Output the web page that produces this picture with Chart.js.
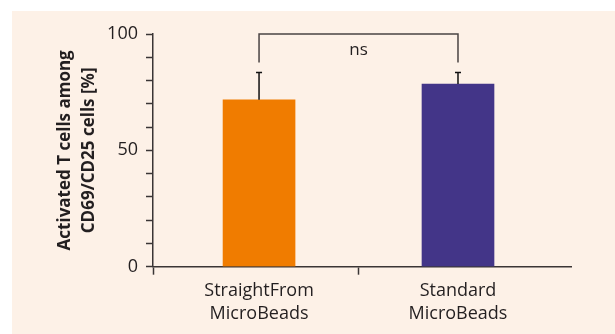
<!DOCTYPE html>
<html>
<head>
<meta charset="utf-8">
<script src="https://cdn.jsdelivr.net/npm/chart.js@4"></script>
<style>
    html, body { margin: 0; padding: 0; background: #ffffff; }
    #panel { position: absolute; left: 12px; top: 11px; right: 0; bottom: 0; background: #fdf1e7; }
    #wrap { position: absolute; left: 0; top: 0; width: 615px; height: 334px; }
</style>
</head>
<body>
<div id="panel"></div>
<div id="wrap"><canvas id="chart"></canvas></div>
<script>
// values
const categories = [['StraightFrom', 'MicroBeads'], ['Standard', 'MicroBeads']];
const means = [71.7, 78.5];
const errors = [11.8, 5.0];
const barColors = ['#f07c00', '#433588'];
const labelledTicks = [0, 50, 100];
const sigLabel = 'ns';
const sigHeight = 100;
const sigLegs = 87.8;

const ink = '#231f20';
const axisColor = '#3a3535';
const font = '"Open Sans", sans-serif';

const xMin = -0.533, xMax = 1.568;

// error bars + significance bracket
const annotations = {
    id: 'annotations',
    afterDatasetsDraw(chart) {
        const {ctx, scales: {x, y}} = chart;
        ctx.save();
        ctx.strokeStyle = '#111';
        ctx.lineWidth = 1.5;
        means.forEach(function (m, i) {
            const px = x.getPixelForValue(i);
            const top = y.getPixelForValue(m + errors[i]);
            ctx.beginPath();
            ctx.moveTo(px, y.getPixelForValue(m));
            ctx.lineTo(px, top);
            ctx.moveTo(px - 3, top);
            ctx.lineTo(px + 3, top);
            ctx.stroke();
        });

        const x0 = x.getPixelForValue(0), x1 = x.getPixelForValue(1);
        const yTop = y.getPixelForValue(sigHeight), yLeg = y.getPixelForValue(sigLegs);
        ctx.strokeStyle = '#4a4444';
        ctx.beginPath();
        ctx.moveTo(x0, yLeg);
        ctx.lineTo(x0, yTop);
        ctx.lineTo(x1, yTop);
        ctx.lineTo(x1, yLeg);
        ctx.stroke();

        ctx.fillStyle = ink;
        ctx.font = '17px ' + font;
        ctx.textAlign = 'center';
        ctx.textBaseline = 'middle';
        ctx.fillText(sigLabel, x.getPixelForValue(0.5), y.getPixelForValue(93));
        ctx.restore();
    }
};

const myChart = new Chart(document.getElementById('chart'), {
    type: 'bar',
    data: {
        datasets: [{
            data: means.map(function (m, i) { return {x: i, y: m}; }),
            backgroundColor: barColors,
            borderWidth: 0,
            barThickness: 72
        }]
    },
    options: {
        responsive: true,
        maintainAspectRatio: false,
        animation: false,
        layout: {padding: {left: 0, right: 44, top: 34, bottom: 0}},
        plugins: {
            legend: {display: false},
            tooltip: {enabled: false}
        },
        scales: {
            x: {
                type: 'linear',
                min: xMin,
                max: xMax,
                offset: false,
                afterBuildTicks: function (scale) {
                    scale.ticks = [{value: xMin}, {value: 0}, {value: 0.5}, {value: 1}];
                },
                afterFit: function (scale) { scale.height = 67.3; },
                border: {color: axisColor, width: 1.5},
                grid: {
                    offset: false,
                    drawOnChartArea: false,
                    tickLength: 8,
                    tickWidth: 1.5,
                    tickColor: function (c) {
                        return (c.tick && (c.tick.value === 0 || c.tick.value === 1)) ? 'rgba(0,0,0,0)' : axisColor;
                    }
                },
                ticks: {
                    autoSkip: false,
                    maxRotation: 0,
                    padding: 4,
                    color: ink,
                    font: {family: font, size: 18, lineHeight: 1.3},
                    callback: function (value) {
                        if (value === 0 || value === 1) return categories[value];
                        return '';
                    }
                }
            },
            y: {
                min: 0,
                max: 100,
                afterFit: function (scale) { scale.width = 153; },
                border: {color: axisColor, width: 1.5},
                grid: {drawOnChartArea: false, tickLength: 7, tickWidth: 1.5, tickColor: axisColor},
                ticks: {
                    stepSize: 10,
                    autoSkip: false,
                    padding: 8,
                    color: ink,
                    font: {family: font, size: 18},
                    callback: function (value) {
                        return labelledTicks.includes(value) ? String(value) : '';
                    }
                },
                title: {
                    display: true,
                    text: ['Activated T cells among', 'CD69/CD25 cells [%]'],
                    color: ink,
                    padding: {top: 53.5, bottom: 0},
                    font: {family: font, size: 17, weight: 'bold', lineHeight: 1.41}
                }
            }
        }
    },
    plugins: [annotations]
});
</script>
</body>
</html>
